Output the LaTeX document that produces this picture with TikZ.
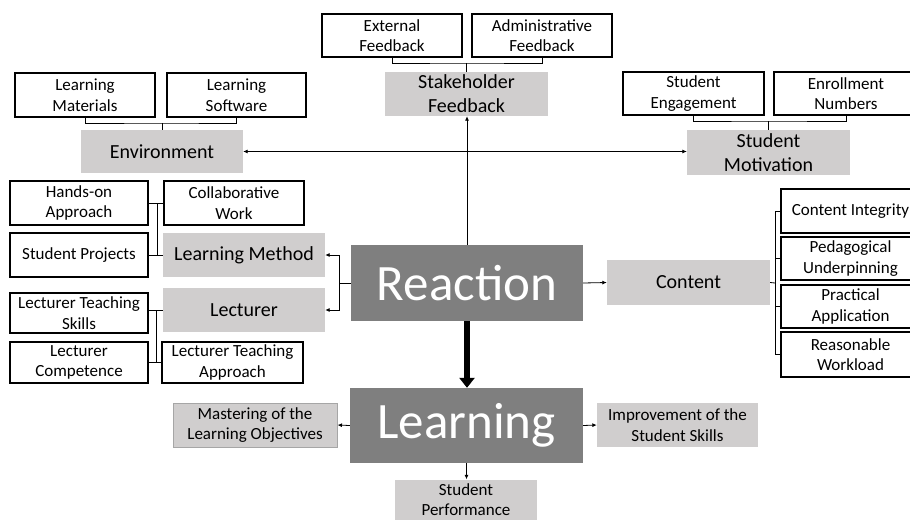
\documentclass[tikz,border=0pt]{standalone}
\usepackage{fontspec}
\setmainfont{Carlito}
\usetikzlibrary{arrows.meta}
\definecolor{boxgray}{RGB}{208,206,206}
\definecolor{coregray}{RGB}{127,127,127}
\definecolor{edgegray}{RGB}{166,166,166}
\tikzset{
  sz/.style 2 args={minimum width=#1pt, minimum height=#2pt},
  leaf/.style={draw=black, line width=1.1pt, fill=white, inner sep=0pt, align=center,
    font=\fontsize{17}{20.5}\selectfont},
  facet/.style={fill=boxgray, inner sep=0pt, align=center,
    font=\fontsize{20}{24}\selectfont},
  note/.style={fill=boxgray, inner sep=0pt, align=center,
    font=\fontsize{17}{20.5}\selectfont},
  core/.style={fill=coregray, text=white, inner sep=0pt,
    font=\fontsize{51}{60}\selectfont},
  link/.style={line width=0.8pt},
  arr/.style={line width=0.8pt, -{Latex[length=4.5pt,width=4pt]}},
  biarr/.style={line width=0.8pt, {Latex[length=4.5pt,width=4pt]}-{Latex[length=4.5pt,width=4pt]}},
  bigarr/.style={line width=6pt, -{Triangle[length=10pt,width=15pt]}},
}
\begin{document}
\begin{tikzpicture}[x=1pt,y=-1pt]
\path[use as bounding box] (0,0) rectangle (910,520);
\clip (0,0) rectangle (910,520);

% central levels
\node[core, sz={232}{76}] (reaction) at (467,283) {Reaction};
\node[core, sz={233}{75}] (learning) at (466.5,425.5) {Learning};

% stakeholder feedback
\node[leaf, sz={140}{43}] (ext) at (392,35.5) {External\\Feedback};
\node[leaf, sz={140}{43}] (adm) at (542,35.5) {Administrative\\Feedback};
\node[facet, sz={163}{44}] (stake) at (466.5,94) {Stakeholder\\Feedback};

% environment
\node[leaf, sz={140}{44}] (lmat) at (85,95) {Learning\\Materials};
\node[leaf, sz={139}{44}] (lsoft) at (236.5,95) {Learning\\Software};
\node[facet, sz={162}{43}] (env) at (162,151.5) {Environment};

% student motivation
\node[leaf, sz={141}{43}] (seng) at (693.5,93.5) {Student\\Engagement};
\node[leaf, sz={144}{43}] (enr) at (846,93.5) {Enrollment\\Numbers};
\node[facet, sz={163}{45}] (smot) at (768.5,152.5) {Student\\Motivation};

% learning method
\node[leaf, sz={138}{44}] (hands) at (79,203) {Hands-on\\Approach};
\node[leaf, sz={140}{44}] (collab) at (234,203) {Collaborative\\Work};
\node[leaf, sz={138}{44}] (sproj) at (79,255) {Student Projects};
\node[facet, sz={162}{44}] (lmeth) at (244,255) {Learning Method};

% lecturer
\node[leaf, sz={138}{40}] (lts) at (79,313) {Lecturer Teaching\\Skills};
\node[facet, sz={162}{44}] (lect) at (244,310) {Lecturer};
\node[leaf, sz={138}{41}] (lcomp) at (79,362.5) {Lecturer\\Competence};
\node[leaf, sz={141}{41}] (lta) at (232.5,362.5) {Lecturer Teaching\\Approach};

% content
\node[facet, sz={163}{45}] (content) at (688.5,282.5) {Content};
\node[leaf, sz={139}{44}] (cint) at (850.5,211) {Content Integrity};
\node[leaf, sz={139}{43}] (ped) at (850.5,258.5) {Pedagogical\\Underpinning};
\node[leaf, sz={139}{43}] (prac) at (850.5,306.5) {Practical\\Application};
\node[leaf, sz={139}{45}] (reas) at (850.5,354.5) {Reasonable\\Workload};

% learning outcomes
\node[note, sz={164}{44}, draw=edgegray, line width=1pt] (master) at (255,425) {Mastering of the\\Learning Objectives};
\node[note, sz={161}{44}] (improv) at (677.5,425) {Improvement of the\\Student Skills};
\node[note, sz={142}{40}] (sperf) at (466,499.5) {Student\\Performance};

% brackets above the facets
\coordinate (sfk) at (466.5,63);
\draw[link] (ext.south) |- (sfk) -| (adm.south);
\draw[link] (sfk) -- (stake.north);
\coordinate (envk) at (162,123);
\draw[link] (lmat.south) |- (envk) -| (lsoft.south);
\draw[link] (envk) -- (env.north);
\coordinate (motk) at (768.5,121);
\draw[link] (seng.south) |- (motk) -| (enr.south);
\draw[link] (motk) -- (smot.north);

% learning method group
\coordinate (lmt) at (157,203);
\coordinate (lmb) at (157,255);
\draw[link] (hands.east) -- (collab.west);
\draw[link] (sproj.east) -- (lmeth.west);
\draw[link] (lmt) -- (lmb);

% lecturer group
\coordinate (lct) at (156,310);
\coordinate (lcb) at (156,362.5);
\draw[link] (lts.east |- lct) -- (lect.west |- lct);
\draw[link] (lcomp.east) -- (lta.west);
\draw[link] (lct) -- (lcb);

% content group
\coordinate (cj) at (775,283);
\draw[link] (content.east) -- (cj);
\draw[link] (cj) |- (cint.west);
\draw[link] (cj) |- (ped.west);
\draw[link] (cj) |- (prac.west);
\draw[link] (cj) |- (reas.west);

% reaction links
\draw[arr] (reaction.north) -- (reaction.north |- stake.south);
\draw[biarr] (env.east) -- (env.east -| smot.west);
\draw[arr] (reaction.east) -- (content.west);
\coordinate (rj) at (339,283);
\draw[link] (reaction.west) -- (rj);
\draw[arr] (rj) |- (lmeth.east);
\draw[arr] (rj) |- (lect.east);
\draw[bigarr] (reaction.south) -- (reaction.south |- learning.north);

% learning links
\draw[arr] (learning.west) -- (master.east);
\draw[arr] (learning.east) -- (improv.west);
\draw[arr] (learning.south) -- (learning.south |- sperf.north);
\end{tikzpicture}
\end{document}
